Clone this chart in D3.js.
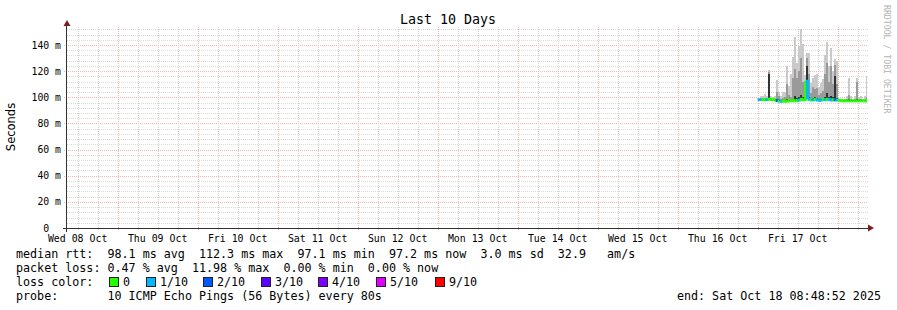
<!DOCTYPE html>
<html>
<head>
<meta charset="utf-8">
<script src="https://cdn.jsdelivr.net/npm/d3@7"></script>
<style>
  body { margin: 0; background: #fff; }
  text { font-family: "DejaVu Sans Mono", monospace; fill: #000; }
</style>
</head>
<body>
<svg id="chart" width="897" height="310"></svg>
<script>
// time range of the graph (UTC used as the graph clock)
var graphStart = new Date(Date.UTC(2025, 9, 8, 8, 48, 52));
var graphEnd = new Date(Date.UTC(2025, 9, 18, 8, 48, 52));
var firstSample = new Date(Date.UTC(2025, 9, 17, 0, 0, 0));
var stepMinutes = 36;

// median rtt per step, ms
var median = [98.3, 98.3, 98.3, 98.2, 98.3, 98.5, 98.3, 98.2, 98.0, 97.5,
              97.0, 97.0, 97.1, 97.0, 97.2, 97.3, 97.5, 97.4, 97.3, 97.5,
              98.0, 98.5, 98.2, 98.5, 112.3, 98.5, 98.0, 98.2, 98.5, 98.0,
              97.8, 98.0, 98.3, 98.2, 98.5, 98.3, 98.0, 98.2, 98.0, 98.0,
              97.5, 97.4, 97.3, 97.3, 97.3, 97.3, 97.3, 97.3, 97.3, 97.3,
              97.3, 97.3, 97.3, 97.2, 97.2];
// lost pings out of 10
var loss = [1, 1, 0, 0, 1, 0, 0, 0, 0, 2,
            0, 1, 0, 0, 0, 0, 0, 0, 0, 0,
            1, 0, 0, 0, 1, 1, 0, 1, 0, 1,
            1, 1, 0, 1, 0, 1, 1, 0, 2, 1,
            0, 0, 0, 0, 0, 0, 0, 0, 0, 0,
            0, 0, 0, 0, 0];
// smoke: slowest ping, upper quartile ping, ping just above median, fastest ping (ms)
var rttMax = [99, 101, 101, 102.5, 101, 121, 101, 100.5, 101, 113,
              104, 101, 104, 104, 124, 109, 118, 131, 146, 126,
              139, 152, 141, 117, 134, 134, 111, 115, 117, 118,
              108, 111, 114, 132, 142, 124, 138, 120, 129, 128,
              99, 98.5, 99, 99, 101, 115, 101, 99, 101, 115,
              100, 101, 99, 101, 116];
var rttHigh = [98.6, 99, 99, 99.5, 99, 119, 99, 98.8, 99, 104,
               101, 98.5, 99.5, 100, 110, 102, 100, 115, 122, 115,
               120, 130, 112, 106, 130, 118, 103, 108, 106, 107,
               102, 103, 105, 118, 126, 112, 124, 110, 125, 110,
               98, 98, 98, 98, 99, 101.5, 99, 98, 99, 112,
               98.5, 99, 98, 99, 100];
var rttCore = [98.4, 98.5, 98.5, 98.6, 98.5, 118, 98.6, 98.4, 98.3, 99,
               97.8, 97.5, 97.6, 97.6, 99, 98, 98, 99, 101, 99.5,
               100, 102, 100, 100, 124, 100, 99, 99.5, 100, 99.5,
               98.5, 99, 99.5, 100, 103, 100, 101, 100, 116, 99.5,
               97.8, 97.8, 97.8, 97.8, 98, 98.5, 98, 97.6, 98, 98.5,
               97.6, 98, 97.6, 97.6, 98];
var rttMin = [97.5, 97.5, 97.5, 97.4, 97.5, 97.6, 97.5, 97.4, 97.2, 96.5,
              96.3, 96.3, 96.4, 96.3, 96.5, 96.6, 96.6, 96.6, 96.5, 96.6,
              96.8, 97.2, 97.0, 97.2, 98.5, 97.2, 96.9, 97.0, 97.2, 96.9,
              96.8, 96.9, 97.1, 97.0, 97.2, 97.1, 96.9, 97.0, 96.9, 96.9,
              96.8, 96.8, 96.7, 96.7, 96.7, 96.7, 96.7, 96.7, 96.7, 96.7,
              96.7, 96.7, 96.7, 96.6, 96.6];

var yTicks = [0, 0.02, 0.04, 0.06, 0.08, 0.10, 0.12, 0.14];
var yTickLabels = ["0  ", "20 m", "40 m", "60 m", "80 m", "100 m", "120 m", "140 m"];
var lossColors = ["#26ff00", "#00b8ff", "#0059ff", "#5e00ff", "#7e00ff", "#dd00ff", "#ff0000", "#ff0000", "#ff0000", "#ff0000"];
var legendLoss = [0, 1, 2, 3, 4, 5, 9];
var legendLossLabels = ["0", "1/10", "2/10", "3/10", "4/10", "5/10", "9/10"];

var svg = d3.select("#chart"),
    plotLeft = 67, plotRight = 867, plotTop = 27, plotBottom = 228;

var x = d3.scaleUtc().domain([graphStart, graphEnd]).range([plotLeft, plotRight]);
var y = d3.scaleLinear().domain([0, 0.1538]).range([plotBottom, plotTop]);

var samples = median.map(function(m, i) {
    return {
        t: new Date(firstSample.getTime() + i * stepMinutes * 60000),
        median: m / 1000, loss: loss[i],
        max: rttMax[i] / 1000, high: rttHigh[i] / 1000,
        core: rttCore[i] / 1000, min: rttMin[i] / 1000
    };
});
var last = samples[samples.length - 1];
var stepped = samples.concat([Object.assign({}, last, { t: graphEnd })]);

// grid
var minorX = d3.utcHour.every(6).range(graphStart, graphEnd).filter(function(d) { return d.getUTCHours() !== 0; });
var majorX = d3.utcDay.range(graphStart, graphEnd);
var minorY = d3.range(0.004, 0.1538, 0.004).filter(function(v) { return Math.round(v * 1000) % 20 !== 0; });

var grid = svg.append("g").attr("shape-rendering", "crispEdges");
grid.selectAll(".hminor").data(minorY).enter().append("line")
    .attr("x1", plotLeft).attr("x2", plotRight + 1)
    .attr("y1", function(d) { return Math.round(y(d)) + 0.5; })
    .attr("y2", function(d) { return Math.round(y(d)) + 0.5; })
    .attr("stroke", "#dadada").attr("stroke-dasharray", "1,1");
grid.selectAll(".vminor").data(minorX).enter().append("line")
    .attr("x1", function(d) { return Math.round(x(d)) + 0.5; })
    .attr("x2", function(d) { return Math.round(x(d)) + 0.5; })
    .attr("y1", plotTop).attr("y2", plotBottom + 3)
    .attr("stroke", "#d4d4d4").attr("stroke-dasharray", "1,1");
grid.selectAll(".hmajor").data(yTicks.slice(1)).enter().append("line")
    .attr("x1", plotLeft - 3).attr("x2", plotRight + 1)
    .attr("y1", function(d) { return Math.round(y(d)) + 0.5; })
    .attr("y2", function(d) { return Math.round(y(d)) + 0.5; })
    .attr("stroke", "#f4b4b4").attr("stroke-dasharray", "1,1");
grid.selectAll(".vmajor").data(majorX).enter().append("line")
    .attr("x1", function(d) { return Math.round(x(d)) + 0.5; })
    .attr("x2", function(d) { return Math.round(x(d)) + 0.5; })
    .attr("y1", plotTop).attr("y2", plotBottom + 3)
    .attr("stroke", "#f4b4b4").attr("stroke-dasharray", "1,1");

// smoke
var smoke = svg.append("g").attr("shape-rendering", "crispEdges");
function band(lo, hi, color) {
    smoke.append("path")
        .datum(stepped)
        .attr("fill", color)
        .attr("d", d3.area().curve(d3.curveStepAfter)
            .x(function(d) { return x(d.t); })
            .y0(function(d) { return y(d[lo]); })
            .y1(function(d) { return y(d[hi]); }));
}
band("min", "max", "#cacaca");
band("median", "high", "#9a9a9a");
band("median", "core", "#323232");

// median, coloured by loss
var medLine = d3.line().curve(d3.curveStepAfter)
    .x(function(d) { return x(d.t); })
    .y(function(d) { return y(d.median); });
samples.forEach(function(s, i) {
    var next = stepped[i + 1];
    svg.append("path")
        .attr("d", medLine([s, { t: next.t, median: next.median }]))
        .attr("fill", "none")
        .attr("stroke", lossColors[s.loss])
        .attr("stroke-width", 3);
});

// axes
var axis = svg.append("g").attr("shape-rendering", "crispEdges");
axis.append("line").attr("x1", plotLeft - 4).attr("x2", plotRight + 3)
    .attr("y1", plotBottom + 0.5).attr("y2", plotBottom + 0.5).attr("stroke", "#333");
axis.append("line").attr("x1", plotLeft - 0.5).attr("x2", plotLeft - 0.5)
    .attr("y1", plotBottom + 4).attr("y2", plotTop - 3).attr("stroke", "#333");
svg.append("path").attr("d", "M63.5,26 L67,20 L70.5,26 Z").attr("fill", "#7f1d1d");
svg.append("path").attr("d", "M868,224.5 L874,228 L868,231.5 Z").attr("fill", "#7f1d1d");

svg.append("g").selectAll("text").data(yTicks).enter().append("text")
    .attr("x", 61)
    .attr("y", function(d) { return y(d) + 3.5; })
    .attr("text-anchor", "end")
    .attr("font-size", "9.8px")
    .style("white-space", "pre")
    .text(function(d, i) { return yTickLabels[i]; });

var dayFormat = d3.utcFormat("%a %d %b");
svg.append("g").selectAll("text").data(majorX.map(function(d) { return d3.utcHour.offset(d, -12); })).enter().append("text")
    .attr("x", function(d) { return x(d); })
    .attr("y", 242)
    .attr("text-anchor", "middle")
    .attr("font-size", "9.9px")
    .text(function(d) { return dayFormat(d); });

svg.append("text").attr("x", 448).attr("y", 24).attr("text-anchor", "middle")
    .attr("font-size", "13.3px").text("Last 10 Days");
svg.append("text").attr("transform", "translate(15,127) rotate(-90)")
    .attr("text-anchor", "middle").attr("font-size", "11.5px")
    .style("font-family", "'DejaVu Sans', sans-serif").text("Seconds");
svg.append("text").attr("transform", "translate(884,5) rotate(90)")
    .attr("font-size", "8.2px").style("fill", "#b4b4b4").text("RRDTOOL / TOBI OETIKER");

// legend
var legendLines = [
    "median rtt:  98.1 ms avg  112.3 ms max  97.1 ms min  97.2 ms now  3.0 ms sd  32.9   am/s",
    "packet loss: 0.47 % avg  11.98 % max  0.00 % min  0.00 % now",
    "loss color:",
    "probe:       10 ICMP Echo Pings (56 Bytes) every 80s"
];
svg.append("g").selectAll("text").data(legendLines).enter().append("text")
    .attr("x", 16)
    .attr("y", function(d, i) { return 258 + i * 14; })
    .attr("font-size", "11.7px")
    .style("white-space", "pre")
    .text(function(d) { return d; });

var boxX = [109, 146, 203, 261, 318, 376, 435];
var lg = svg.append("g").selectAll("g").data(legendLoss).enter().append("g")
    .attr("transform", function(d, i) { return "translate(" + boxX[i] + ",277)"; });
lg.append("rect").attr("x", 0.5).attr("y", 0.5).attr("width", 9).attr("height", 9)
    .attr("fill", function(d) { return lossColors[d]; })
    .attr("stroke", "#222").attr("shape-rendering", "crispEdges");
lg.append("text").attr("x", 14).attr("y", 9).attr("font-size", "11.7px")
    .text(function(d, i) { return legendLossLabels[i]; });

svg.append("text").attr("x", 881).attr("y", 300).attr("text-anchor", "end")
    .attr("font-size", "11.7px").text("end: Sat Oct 18 08:48:52 2025");
</script>
</body>
</html>
